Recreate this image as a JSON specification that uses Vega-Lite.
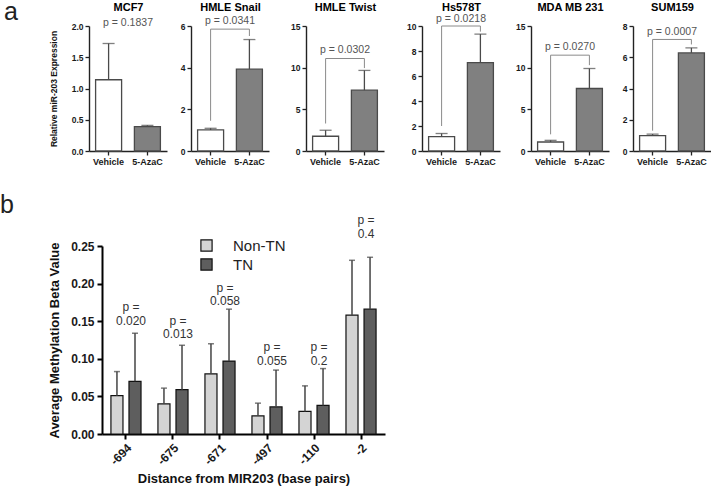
{
  "$schema": "https://vega.github.io/schema/vega-lite/v6.json",
  "padding": {"left": 0, "top": 0, "right": 0, "bottom": 0},
  "config": {
    "font": "Liberation Sans",
    "view": {"stroke": null},
    "axis": {"grid": false, "labelColor": "#1a1a1a", "domainColor": "#222", "tickColor": "#222", "titleColor": "#111", "labelOverlap": false, "labelSeparation": 0, "labelBound": false},
    "axisY": {"labelOverlap": false},
    "axisQuantitative": {"labelOverlap": false}
  },
  "datasets": {
    "a": [
      {"cell": "MCF7", "kind": "bar", "group": "Vehicle", "value": 1.14, "err": 1.72},
      {"cell": "MCF7", "kind": "bar", "group": "5-AzaC", "value": 0.39, "err": 0.41},
      {"cell": "MCF7", "kind": "p", "label": "p = 0.1837", "value": 2.0},
      {"cell": "HMLE Snail", "kind": "bar", "group": "Vehicle", "value": 1.01, "err": 1.09},
      {"cell": "HMLE Snail", "kind": "bar", "group": "5-AzaC", "value": 3.93, "err": 5.35},
      {"cell": "HMLE Snail", "kind": "br", "group": "Vehicle", "ord": 1, "value": 1.45},
      {"cell": "HMLE Snail", "kind": "br", "group": "Vehicle", "ord": 2, "value": 5.85},
      {"cell": "HMLE Snail", "kind": "br", "group": "5-AzaC", "ord": 3, "value": 5.85},
      {"cell": "HMLE Snail", "kind": "br", "group": "5-AzaC", "ord": 4, "value": 5.52},
      {"cell": "HMLE Snail", "kind": "p", "label": "p = 0.0341", "value": 6.12},
      {"cell": "HMLE Twist", "kind": "bar", "group": "Vehicle", "value": 1.77, "err": 2.49},
      {"cell": "HMLE Twist", "kind": "bar", "group": "5-AzaC", "value": 7.3, "err": 9.67},
      {"cell": "HMLE Twist", "kind": "br", "group": "Vehicle", "ord": 1, "value": 3.3},
      {"cell": "HMLE Twist", "kind": "br", "group": "Vehicle", "ord": 2, "value": 11.1},
      {"cell": "HMLE Twist", "kind": "br", "group": "5-AzaC", "ord": 3, "value": 11.1},
      {"cell": "HMLE Twist", "kind": "br", "group": "5-AzaC", "ord": 4, "value": 9.95},
      {"cell": "HMLE Twist", "kind": "p", "label": "p = 0.0302", "value": 11.75},
      {"cell": "Hs578T", "kind": "bar", "group": "Vehicle", "value": 1.15, "err": 1.4},
      {"cell": "Hs578T", "kind": "bar", "group": "5-AzaC", "value": 7.07, "err": 9.35},
      {"cell": "Hs578T", "kind": "br", "group": "Vehicle", "ord": 1, "value": 2.0},
      {"cell": "Hs578T", "kind": "br", "group": "Vehicle", "ord": 2, "value": 10.0},
      {"cell": "Hs578T", "kind": "br", "group": "5-AzaC", "ord": 3, "value": 10.0},
      {"cell": "Hs578T", "kind": "br", "group": "5-AzaC", "ord": 4, "value": 9.55},
      {"cell": "Hs578T", "kind": "p", "label": "p = 0.0218", "value": 10.35},
      {"cell": "MDA MB 231", "kind": "bar", "group": "Vehicle", "value": 1.08, "err": 1.28},
      {"cell": "MDA MB 231", "kind": "bar", "group": "5-AzaC", "value": 7.5, "err": 9.9},
      {"cell": "MDA MB 231", "kind": "br", "group": "Vehicle", "ord": 1, "value": 2.0},
      {"cell": "MDA MB 231", "kind": "br", "group": "Vehicle", "ord": 2, "value": 11.5},
      {"cell": "MDA MB 231", "kind": "br", "group": "5-AzaC", "ord": 3, "value": 11.5},
      {"cell": "MDA MB 231", "kind": "br", "group": "5-AzaC", "ord": 4, "value": 10.3},
      {"cell": "MDA MB 231", "kind": "p", "label": "p = 0.0270", "value": 12.1},
      {"cell": "SUM159", "kind": "bar", "group": "Vehicle", "value": 0.98, "err": 1.08},
      {"cell": "SUM159", "kind": "bar", "group": "5-AzaC", "value": 6.28, "err": 6.6},
      {"cell": "SUM159", "kind": "br", "group": "Vehicle", "ord": 1, "value": 1.3},
      {"cell": "SUM159", "kind": "br", "group": "Vehicle", "ord": 2, "value": 7.14},
      {"cell": "SUM159", "kind": "br", "group": "5-AzaC", "ord": 3, "value": 7.14},
      {"cell": "SUM159", "kind": "br", "group": "5-AzaC", "ord": 4, "value": 6.82},
      {"cell": "SUM159", "kind": "p", "label": "p = 0.0007", "value": 7.45}
    ],
    "b": [
      {"pos": "-694", "grp": "Non-TN", "value": 0.051, "err": 0.083},
      {"pos": "-694", "grp": "TN", "value": 0.070, "err": 0.134},
      {"pos": "-675", "grp": "Non-TN", "value": 0.040, "err": 0.061},
      {"pos": "-675", "grp": "TN", "value": 0.059, "err": 0.118},
      {"pos": "-671", "grp": "Non-TN", "value": 0.080, "err": 0.120},
      {"pos": "-671", "grp": "TN", "value": 0.097, "err": 0.166},
      {"pos": "-497", "grp": "Non-TN", "value": 0.024, "err": 0.041},
      {"pos": "-497", "grp": "TN", "value": 0.036, "err": 0.085},
      {"pos": "-110", "grp": "Non-TN", "value": 0.030, "err": 0.064},
      {"pos": "-110", "grp": "TN", "value": 0.038, "err": 0.087},
      {"pos": "-2", "grp": "Non-TN", "value": 0.158, "err": 0.231},
      {"pos": "-2", "grp": "TN", "value": 0.166, "err": 0.235}
    ],
    "bp": [
      {"pos": "-694", "label": "p =\n0.020", "py": 0.163},
      {"pos": "-675", "label": "p =\n0.013", "py": 0.145},
      {"pos": "-671", "label": "p =\n0.058", "py": 0.189},
      {"pos": "-497", "label": "p =\n0.055", "py": 0.110},
      {"pos": "-110", "label": "p =\n0.2", "py": 0.110},
      {"pos": "-2", "label": "p =\n0.4", "py": 0.279}
    ]
  },
  "resolve": {"scale": {"fill": "independent"}, "legend": {"fill": "independent"}},
  "spacing": 27,
  "vconcat": [
    {
      "title": {"text": "a", "anchor": "start", "fontSize": 25, "fontWeight": "normal", "color": "#222", "dx": -45, "dy": 24, "offset": 0},
      "spacing": 4,
      "data": {"name": "a"},
      "hconcat": [
        {
          "width": 78, "height": 125,
          "transform": [{"filter": "datum.cell === 'MCF7'"}],
          "resolve": {"axis": {"x": "independent"}},
          "layer": [
            {"transform": [{"filter": "datum.kind === 'bar'"}],
             "mark": {"type": "bar", "stroke": "#4a4a4a", "strokeWidth": 1.3},
             "encoding": {
               "x": {"field": "group", "type": "nominal", "sort": ["Vehicle", "5-AzaC"], "scale": {"paddingInner": 0.33, "paddingOuter": 0.17},
                     "axis": {"title": null, "labelAngle": 0, "labelFontWeight": "bold", "labelFontSize": 9, "labelPadding": 2, "tickSize": 4, "domainWidth": 1.4, "tickWidth": 1.3}},
               "y": {"field": "value", "type": "quantitative", "scale": {"domain": [0, 2], "nice": false},
                     "axis": {"title": "Relative miR-203 Expression", "titleFontSize": 8.5, "titleFontWeight": "bold", "titlePadding": 7, "values": [0, 0.5, 1, 1.5, 2], "format": ".1f", "labelOverlap": false, "labelFontWeight": "bold", "labelFontSize": 8.5, "labelPadding": 2, "tickSize": 4, "domainWidth": 1.4, "tickWidth": 1.3, "minExtent": 24, "maxExtent": 24}},
               "fill": {"field": "group", "type": "nominal", "scale": {"domain": ["Vehicle", "5-AzaC"], "range": ["#ffffff", "#808080"]}, "legend": null}
             }},
            {"transform": [{"filter": "datum.kind === 'bar'"}],
             "mark": {"type": "rule", "color": "#4a4a4a", "strokeWidth": 1.3},
             "encoding": {
               "x": {"field": "group", "type": "nominal", "sort": ["Vehicle", "5-AzaC"],
                     "axis": {"orient": "top", "title": "MCF7", "labels": false, "ticks": false, "domain": false, "titleFontSize": 11, "titleFontWeight": "bold", "titleColor": "#000", "titlePadding": 14, "minExtent": 0, "maxExtent": 0}},
               "y": {"field": "value", "type": "quantitative", "axis": {"values": [0, 0.5, 1, 1.5, 2], "format": ".1f", "labelOverlap": false}}, "y2": {"field": "err"}
             }},
            {"transform": [{"filter": "datum.kind === 'bar'"}],
             "mark": {"type": "tick", "color": "#4a4a4a", "thickness": 1.3, "size": 12},
             "encoding": {"x": {"field": "group", "type": "nominal", "sort": ["Vehicle", "5-AzaC"], "axis": null}, "y": {"field": "err", "type": "quantitative", "axis": {"values": [0, 0.5, 1, 1.5, 2], "format": ".1f", "labelOverlap": false}}}},
            {"transform": [{"filter": "datum.kind === 'p'"}],
             "mark": {"type": "text", "fontSize": 10.5, "color": "#555", "baseline": "alphabetic"},
             "encoding": {"y": {"field": "value", "type": "quantitative", "axis": {"values": [0, 0.5, 1, 1.5, 2], "format": ".1f", "labelOverlap": false}}, "text": {"field": "label"}}}
          ]
        },
        {
          "width": 78, "height": 125,
          "transform": [{"filter": "datum.cell === 'HMLE Snail'"}],
          "resolve": {"axis": {"x": "independent"}},
          "layer": [
            {"transform": [{"filter": "datum.kind === 'bar'"}],
             "mark": {"type": "bar", "stroke": "#4a4a4a", "strokeWidth": 1.3},
             "encoding": {
               "x": {"field": "group", "type": "nominal", "sort": ["Vehicle", "5-AzaC"], "scale": {"paddingInner": 0.33, "paddingOuter": 0.17},
                     "axis": {"title": null, "labelAngle": 0, "labelFontWeight": "bold", "labelFontSize": 9, "labelPadding": 2, "tickSize": 4, "domainWidth": 1.4, "tickWidth": 1.3}},
               "y": {"field": "value", "type": "quantitative", "scale": {"domain": [0, 6], "nice": false},
                     "axis": {"title": null, "values": [0, 2, 4, 6], "labelOverlap": false, "labelFontWeight": "bold", "labelFontSize": 8.5, "labelPadding": 2, "tickSize": 4, "domainWidth": 1.4, "tickWidth": 1.3, "minExtent": 20, "maxExtent": 20}},
               "fill": {"field": "group", "type": "nominal", "scale": {"domain": ["Vehicle", "5-AzaC"], "range": ["#ffffff", "#808080"]}, "legend": null}
             }},
            {"transform": [{"filter": "datum.kind === 'bar'"}],
             "mark": {"type": "rule", "color": "#4a4a4a", "strokeWidth": 1.3},
             "encoding": {
               "x": {"field": "group", "type": "nominal", "sort": ["Vehicle", "5-AzaC"],
                     "axis": {"orient": "top", "title": "HMLE Snail", "labels": false, "ticks": false, "domain": false, "titleFontSize": 11, "titleFontWeight": "bold", "titleColor": "#000", "titlePadding": 14, "minExtent": 0, "maxExtent": 0}},
               "y": {"field": "value", "type": "quantitative", "axis": {"values": [0, 2, 4, 6], "labelOverlap": false}}, "y2": {"field": "err"}
             }},
            {"transform": [{"filter": "datum.kind === 'bar'"}],
             "mark": {"type": "tick", "color": "#4a4a4a", "thickness": 1.3, "size": 12},
             "encoding": {"x": {"field": "group", "type": "nominal", "sort": ["Vehicle", "5-AzaC"], "axis": null}, "y": {"field": "err", "type": "quantitative", "axis": {"values": [0, 2, 4, 6], "labelOverlap": false}}}},
            {"transform": [{"filter": "datum.kind === 'br'"}],
             "mark": {"type": "line", "color": "#8a8a8a", "strokeWidth": 1},
             "encoding": {"x": {"field": "group", "type": "nominal", "sort": ["Vehicle", "5-AzaC"], "axis": null}, "y": {"field": "value", "type": "quantitative", "axis": {"values": [0, 2, 4, 6], "labelOverlap": false}}, "order": {"field": "ord", "type": "quantitative"}}},
            {"transform": [{"filter": "datum.kind === 'p'"}],
             "mark": {"type": "text", "fontSize": 10.5, "color": "#555", "baseline": "alphabetic"},
             "encoding": {"y": {"field": "value", "type": "quantitative", "axis": {"values": [0, 2, 4, 6], "labelOverlap": false}}, "text": {"field": "label"}}}
          ]
        },
        {
          "width": 78, "height": 125,
          "transform": [{"filter": "datum.cell === 'HMLE Twist'"}],
          "resolve": {"axis": {"x": "independent"}},
          "layer": [
            {"transform": [{"filter": "datum.kind === 'bar'"}],
             "mark": {"type": "bar", "stroke": "#4a4a4a", "strokeWidth": 1.3},
             "encoding": {
               "x": {"field": "group", "type": "nominal", "sort": ["Vehicle", "5-AzaC"], "scale": {"paddingInner": 0.33, "paddingOuter": 0.17},
                     "axis": {"title": null, "labelAngle": 0, "labelFontWeight": "bold", "labelFontSize": 9, "labelPadding": 2, "tickSize": 4, "domainWidth": 1.4, "tickWidth": 1.3}},
               "y": {"field": "value", "type": "quantitative", "scale": {"domain": [0, 15], "nice": false},
                     "axis": {"title": null, "values": [0, 5, 10, 15], "labelOverlap": false, "labelFontWeight": "bold", "labelFontSize": 8.5, "labelPadding": 2, "tickSize": 4, "domainWidth": 1.4, "tickWidth": 1.3, "minExtent": 33, "maxExtent": 33}},
               "fill": {"field": "group", "type": "nominal", "scale": {"domain": ["Vehicle", "5-AzaC"], "range": ["#ffffff", "#808080"]}, "legend": null}
             }},
            {"transform": [{"filter": "datum.kind === 'bar'"}],
             "mark": {"type": "rule", "color": "#4a4a4a", "strokeWidth": 1.3},
             "encoding": {
               "x": {"field": "group", "type": "nominal", "sort": ["Vehicle", "5-AzaC"],
                     "axis": {"orient": "top", "title": "HMLE Twist", "labels": false, "ticks": false, "domain": false, "titleFontSize": 11, "titleFontWeight": "bold", "titleColor": "#000", "titlePadding": 14, "minExtent": 0, "maxExtent": 0}},
               "y": {"field": "value", "type": "quantitative", "axis": {"values": [0, 5, 10, 15], "labelOverlap": false}}, "y2": {"field": "err"}
             }},
            {"transform": [{"filter": "datum.kind === 'bar'"}],
             "mark": {"type": "tick", "color": "#4a4a4a", "thickness": 1.3, "size": 12},
             "encoding": {"x": {"field": "group", "type": "nominal", "sort": ["Vehicle", "5-AzaC"], "axis": null}, "y": {"field": "err", "type": "quantitative", "axis": {"values": [0, 5, 10, 15], "labelOverlap": false}}}},
            {"transform": [{"filter": "datum.kind === 'br'"}],
             "mark": {"type": "line", "color": "#8a8a8a", "strokeWidth": 1},
             "encoding": {"x": {"field": "group", "type": "nominal", "sort": ["Vehicle", "5-AzaC"], "axis": null}, "y": {"field": "value", "type": "quantitative", "axis": {"values": [0, 5, 10, 15], "labelOverlap": false}}, "order": {"field": "ord", "type": "quantitative"}}},
            {"transform": [{"filter": "datum.kind === 'p'"}],
             "mark": {"type": "text", "fontSize": 10.5, "color": "#555", "baseline": "alphabetic"},
             "encoding": {"y": {"field": "value", "type": "quantitative", "axis": {"values": [0, 5, 10, 15], "labelOverlap": false}}, "text": {"field": "label"}}}
          ]
        },
        {
          "width": 78, "height": 125,
          "transform": [{"filter": "datum.cell === 'Hs578T'"}],
          "resolve": {"axis": {"x": "independent"}},
          "layer": [
            {"transform": [{"filter": "datum.kind === 'bar'"}],
             "mark": {"type": "bar", "stroke": "#4a4a4a", "strokeWidth": 1.3},
             "encoding": {
               "x": {"field": "group", "type": "nominal", "sort": ["Vehicle", "5-AzaC"], "scale": {"paddingInner": 0.33, "paddingOuter": 0.17},
                     "axis": {"title": null, "labelAngle": 0, "labelFontWeight": "bold", "labelFontSize": 9, "labelPadding": 2, "tickSize": 4, "domainWidth": 1.4, "tickWidth": 1.3}},
               "y": {"field": "value", "type": "quantitative", "scale": {"domain": [0, 10], "nice": false},
                     "axis": {"title": null, "values": [0, 2, 4, 6, 8, 10], "tickCount": 6, "labelOverlap": false, "labelFontWeight": "bold", "labelFontSize": 8.5, "labelPadding": 2, "tickSize": 4, "domainWidth": 1.4, "tickWidth": 1.3, "minExtent": 34, "maxExtent": 34}},
               "fill": {"field": "group", "type": "nominal", "scale": {"domain": ["Vehicle", "5-AzaC"], "range": ["#ffffff", "#808080"]}, "legend": null}
             }},
            {"transform": [{"filter": "datum.kind === 'bar'"}],
             "mark": {"type": "rule", "color": "#4a4a4a", "strokeWidth": 1.3},
             "encoding": {
               "x": {"field": "group", "type": "nominal", "sort": ["Vehicle", "5-AzaC"],
                     "axis": {"orient": "top", "title": "Hs578T", "labels": false, "ticks": false, "domain": false, "titleFontSize": 11, "titleFontWeight": "bold", "titleColor": "#000", "titlePadding": 14, "minExtent": 0, "maxExtent": 0}},
               "y": {"field": "value", "type": "quantitative", "axis": {"values": [0, 2, 4, 6, 8, 10], "labelOverlap": false}}, "y2": {"field": "err"}
             }},
            {"transform": [{"filter": "datum.kind === 'bar'"}],
             "mark": {"type": "tick", "color": "#4a4a4a", "thickness": 1.3, "size": 12},
             "encoding": {"x": {"field": "group", "type": "nominal", "sort": ["Vehicle", "5-AzaC"], "axis": null}, "y": {"field": "err", "type": "quantitative", "axis": {"values": [0, 2, 4, 6, 8, 10], "labelOverlap": false}}}},
            {"transform": [{"filter": "datum.kind === 'br'"}],
             "mark": {"type": "line", "color": "#8a8a8a", "strokeWidth": 1},
             "encoding": {"x": {"field": "group", "type": "nominal", "sort": ["Vehicle", "5-AzaC"], "axis": null}, "y": {"field": "value", "type": "quantitative", "axis": {"values": [0, 2, 4, 6, 8, 10], "labelOverlap": false}}, "order": {"field": "ord", "type": "quantitative"}}},
            {"transform": [{"filter": "datum.kind === 'p'"}],
             "mark": {"type": "text", "fontSize": 10.5, "color": "#555", "baseline": "alphabetic"},
             "encoding": {"y": {"field": "value", "type": "quantitative", "axis": {"values": [0, 2, 4, 6, 8, 10], "labelOverlap": false}}, "text": {"field": "label"}}}
          ]
        },
        {
          "width": 78, "height": 125,
          "transform": [{"filter": "datum.cell === 'MDA MB 231'"}],
          "resolve": {"axis": {"x": "independent"}},
          "layer": [
            {"transform": [{"filter": "datum.kind === 'bar'"}],
             "mark": {"type": "bar", "stroke": "#4a4a4a", "strokeWidth": 1.3},
             "encoding": {
               "x": {"field": "group", "type": "nominal", "sort": ["Vehicle", "5-AzaC"], "scale": {"paddingInner": 0.33, "paddingOuter": 0.17},
                     "axis": {"title": null, "labelAngle": 0, "labelFontWeight": "bold", "labelFontSize": 9, "labelPadding": 2, "tickSize": 4, "domainWidth": 1.4, "tickWidth": 1.3}},
               "y": {"field": "value", "type": "quantitative", "scale": {"domain": [0, 15], "nice": false},
                     "axis": {"title": null, "values": [0, 5, 10, 15], "labelOverlap": false, "labelFontWeight": "bold", "labelFontSize": 8.5, "labelPadding": 2, "tickSize": 4, "domainWidth": 1.4, "tickWidth": 1.3, "minExtent": 27, "maxExtent": 27}},
               "fill": {"field": "group", "type": "nominal", "scale": {"domain": ["Vehicle", "5-AzaC"], "range": ["#ffffff", "#808080"]}, "legend": null}
             }},
            {"transform": [{"filter": "datum.kind === 'bar'"}],
             "mark": {"type": "rule", "color": "#4a4a4a", "strokeWidth": 1.3},
             "encoding": {
               "x": {"field": "group", "type": "nominal", "sort": ["Vehicle", "5-AzaC"],
                     "axis": {"orient": "top", "title": "MDA MB 231", "labels": false, "ticks": false, "domain": false, "titleFontSize": 11, "titleFontWeight": "bold", "titleColor": "#000", "titlePadding": 14, "minExtent": 0, "maxExtent": 0}},
               "y": {"field": "value", "type": "quantitative", "axis": {"values": [0, 5, 10, 15], "labelOverlap": false}}, "y2": {"field": "err"}
             }},
            {"transform": [{"filter": "datum.kind === 'bar'"}],
             "mark": {"type": "tick", "color": "#4a4a4a", "thickness": 1.3, "size": 12},
             "encoding": {"x": {"field": "group", "type": "nominal", "sort": ["Vehicle", "5-AzaC"], "axis": null}, "y": {"field": "err", "type": "quantitative", "axis": {"values": [0, 5, 10, 15], "labelOverlap": false}}}},
            {"transform": [{"filter": "datum.kind === 'br'"}],
             "mark": {"type": "line", "color": "#8a8a8a", "strokeWidth": 1},
             "encoding": {"x": {"field": "group", "type": "nominal", "sort": ["Vehicle", "5-AzaC"], "axis": null}, "y": {"field": "value", "type": "quantitative", "axis": {"values": [0, 5, 10, 15], "labelOverlap": false}}, "order": {"field": "ord", "type": "quantitative"}}},
            {"transform": [{"filter": "datum.kind === 'p'"}],
             "mark": {"type": "text", "fontSize": 10.5, "color": "#555", "baseline": "alphabetic"},
             "encoding": {"y": {"field": "value", "type": "quantitative", "axis": {"values": [0, 5, 10, 15], "labelOverlap": false}}, "text": {"field": "label"}}}
          ]
        },
        {
          "width": 78, "height": 125,
          "transform": [{"filter": "datum.cell === 'SUM159'"}],
          "resolve": {"axis": {"x": "independent"}},
          "layer": [
            {"transform": [{"filter": "datum.kind === 'bar'"}],
             "mark": {"type": "bar", "stroke": "#4a4a4a", "strokeWidth": 1.3},
             "encoding": {
               "x": {"field": "group", "type": "nominal", "sort": ["Vehicle", "5-AzaC"], "scale": {"paddingInner": 0.33, "paddingOuter": 0.17},
                     "axis": {"title": null, "labelAngle": 0, "labelFontWeight": "bold", "labelFontSize": 9, "labelPadding": 2, "tickSize": 4, "domainWidth": 1.4, "tickWidth": 1.3}},
               "y": {"field": "value", "type": "quantitative", "scale": {"domain": [0, 8], "nice": false},
                     "axis": {"title": null, "values": [0, 2, 4, 6, 8], "labelOverlap": false, "labelFontWeight": "bold", "labelFontSize": 8.5, "labelPadding": 2, "tickSize": 4, "domainWidth": 1.4, "tickWidth": 1.3, "minExtent": 20, "maxExtent": 20}},
               "fill": {"field": "group", "type": "nominal", "scale": {"domain": ["Vehicle", "5-AzaC"], "range": ["#ffffff", "#808080"]}, "legend": null}
             }},
            {"transform": [{"filter": "datum.kind === 'bar'"}],
             "mark": {"type": "rule", "color": "#4a4a4a", "strokeWidth": 1.3},
             "encoding": {
               "x": {"field": "group", "type": "nominal", "sort": ["Vehicle", "5-AzaC"],
                     "axis": {"orient": "top", "title": "SUM159", "labels": false, "ticks": false, "domain": false, "titleFontSize": 11, "titleFontWeight": "bold", "titleColor": "#000", "titlePadding": 14, "minExtent": 0, "maxExtent": 0}},
               "y": {"field": "value", "type": "quantitative", "axis": {"values": [0, 2, 4, 6, 8], "labelOverlap": false}}, "y2": {"field": "err"}
             }},
            {"transform": [{"filter": "datum.kind === 'bar'"}],
             "mark": {"type": "tick", "color": "#4a4a4a", "thickness": 1.3, "size": 12},
             "encoding": {"x": {"field": "group", "type": "nominal", "sort": ["Vehicle", "5-AzaC"], "axis": null}, "y": {"field": "err", "type": "quantitative", "axis": {"values": [0, 2, 4, 6, 8], "labelOverlap": false}}}},
            {"transform": [{"filter": "datum.kind === 'br'"}],
             "mark": {"type": "line", "color": "#8a8a8a", "strokeWidth": 1},
             "encoding": {"x": {"field": "group", "type": "nominal", "sort": ["Vehicle", "5-AzaC"], "axis": null}, "y": {"field": "value", "type": "quantitative", "axis": {"values": [0, 2, 4, 6, 8], "labelOverlap": false}}, "order": {"field": "ord", "type": "quantitative"}}},
            {"transform": [{"filter": "datum.kind === 'p'"}],
             "mark": {"type": "text", "fontSize": 10.5, "color": "#555", "baseline": "alphabetic"},
             "encoding": {"y": {"field": "value", "type": "quantitative", "axis": {"values": [0, 2, 4, 6, 8], "labelOverlap": false}}, "text": {"field": "label"}}}
          ]
        }
      ]
    },
    {
      "width": 296, "height": 188,
      "title": {"text": "b", "anchor": "start", "fontSize": 25, "fontWeight": "normal", "color": "#222", "dx": -48, "offset": -4},
      "data": {"name": "b"},
      "layer": [
        {"mark": {"type": "bar", "stroke": "#111", "strokeWidth": 1.2},
         "encoding": {
           "x": {"field": "pos", "type": "nominal", "sort": ["-694", "-675", "-671", "-497", "-110", "-2"], "scale": {"range": [13, 296], "paddingInner": 0.36, "paddingOuter": 0.19},
                 "axis": {"title": "Distance from MIR203 (base pairs)", "titleFontSize": 13, "titleFontWeight": "bold", "titlePadding": 6, "labelAngle": -45, "labelFontWeight": "bold", "labelFontSize": 12, "labelPadding": 3, "tickSize": 5, "tickWidth": 2, "domainWidth": 2, "domainColor": "#000", "tickColor": "#000"}},
           "xOffset": {"field": "grp", "type": "nominal", "sort": ["Non-TN", "TN"], "scale": {"paddingInner": 0.333, "paddingOuter": 0}},
           "y": {"field": "value", "type": "quantitative", "scale": {"domain": [0, 0.25], "nice": false},
                 "axis": {"title": "Average Methylation Beta Value", "offset": -13, "titleFontSize": 13, "titleFontWeight": "bold", "titlePadding": 7, "values": [0, 0.05, 0.1, 0.15, 0.2, 0.25], "tickCount": 6, "format": ".2f", "labelOverlap": false, "labelFontWeight": "bold", "labelFontSize": 12, "labelPadding": 3, "tickSize": 5, "tickWidth": 2, "domainWidth": 2, "domainColor": "#000", "tickColor": "#000", "minExtent": 34, "maxExtent": 34}},
           "fill": {"field": "grp", "type": "nominal", "scale": {"domain": ["Non-TN", "TN"], "range": ["#d4d4d4", "#5e5e5e"]},
                    "legend": {"title": null, "orient": "none", "legendX": 110, "legendY": -8, "padding": 0, "symbolType": "square", "symbolSize": 125, "symbolStrokeColor": "#111", "symbolStrokeWidth": 1.2, "labelFontSize": 15, "labelColor": "#222", "labelOffset": 19, "rowPadding": 2}}
         }},
        {"mark": {"type": "rule", "color": "#444", "strokeWidth": 1.5},
         "encoding": {
           "x": {"field": "pos", "type": "nominal", "sort": ["-694", "-675", "-671", "-497", "-110", "-2"]},
           "xOffset": {"field": "grp", "type": "nominal", "sort": ["Non-TN", "TN"]},
           "y": {"field": "value", "type": "quantitative", "axis": {"values": [0, 0.05, 0.1, 0.15, 0.2, 0.25], "format": ".2f", "labelOverlap": false}}, "y2": {"field": "err"}
         }},
        {"mark": {"type": "tick", "color": "#444", "thickness": 1.5, "size": 6},
         "encoding": {
           "x": {"field": "pos", "type": "nominal", "sort": ["-694", "-675", "-671", "-497", "-110", "-2"]},
           "xOffset": {"field": "grp", "type": "nominal", "sort": ["Non-TN", "TN"]},
           "y": {"field": "err", "type": "quantitative", "axis": {"values": [0, 0.05, 0.1, 0.15, 0.2, 0.25], "format": ".2f", "labelOverlap": false}}
         }},
        {"data": {"name": "bp"},
         "mark": {"type": "text", "fontSize": 12, "lineBreak": "\n", "lineHeight": 13.5, "baseline": "alphabetic", "dx": 5, "color": "#333"},
         "encoding": {
           "x": {"field": "pos", "type": "nominal", "sort": ["-694", "-675", "-671", "-497", "-110", "-2"]},
           "y": {"field": "py", "type": "quantitative", "axis": {"values": [0, 0.05, 0.1, 0.15, 0.2, 0.25], "format": ".2f", "labelOverlap": false}},
           "text": {"field": "label"}
         }}
      ]
    }
  ]
}
